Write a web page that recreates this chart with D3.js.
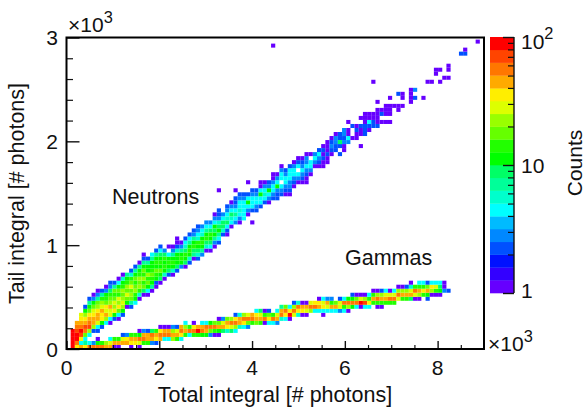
<!DOCTYPE html>
<html>
<head>
<meta charset="utf-8">
<script src="https://cdn.jsdelivr.net/npm/d3@7"></script>
<style>
body { margin: 0; background: #fff; }
text { font-family: "Liberation Sans", Arial, sans-serif; fill: #111; }
</style>
</head>
<body>
<div id="chart"></div>
<script>
// histogram bins, 100 in x, about 78 in y
var xBinWidth = 90;
var yBinWidth = 38.7;

// each column: [x bin, first y bin, counts going upward], 0 = empty cell
var neutronColumns = [
  [1,0,[90,90,90,90,90]], [2,1,[55,90,90,70,55,50]], [3,1,[4,35,70,90,60,50,35,28]],
  [4,2,[5,18,60,70,40,35,22,12,2]], [5,3,[5,22,70,55,40,35,18,12,7,2]],
  [6,4,[2,22,50,45,35,28,18,11,3,1]], [7,4,[2,5,28,45,50,35,22,18,7,3,1]],
  [8,5,[2,11,35,35,50,28,22,14,7,2]], [9,6,[5,22,45,28,35,18,14,11,3,1]],
  [10,6,[1,4,28,28,45,22,18,14,8,3,2]], [11,7,[2,11,35,22,28,18,14,18,7,2]],
  [12,7,[1,4,18,35,22,28,14,18,11,4,1]], [13,8,[2,11,22,28,22,18,22,14,11,6,1]],
  [14,10,[1,11,18,28,18,22,14,11,7]], [15,10,[2,7,18,22,18,28,18,14,6,2]],
  [16,11,[4,11,14,22,18,14,18,11,7,2]], [17,12,[1,6,14,22,18,22,14,11,7,1]],
  [18,13,[1,8,18,14,22,14,18,11,7,2]], [18,23,[1]], [19,13,[1,4,11,18,14,22,11,11,7,2]],
  [20,14,[1,7,11,14,18,14,11,11,7,4]], [21,15,[1,2,11,14,18,11,14,11,7,2]],
  [22,16,[1,8,11,18,11,14,11,8,4,2]], [23,17,[1,6,11,14,11,14,8,3]],
  [24,18,[2,8,11,14,11,4]], [24,25,[1]], [25,18,[1,6,11,14,11,7,3,1]],
  [26,19,[2,8,11,11,11,6,2,1,1]], [27,20,[3,11,14,11,7,3,1]],
  [28,20,[1,8,11,14,8,6,4,2]], [29,21,[2,6,11,14,11,7,4,2]],
  [30,22,[1,7,8,14,11,7,3,2]], [31,22,[2,6,8,11,14,6,4,3,2]],
  [32,23,[3,7,11,14,11,6,4,3]], [33,24,[1,6,8,14,11,7,4,3]],
  [34,24,[1,4,8,11,14,8,4,3]], [35,25,[1,3,7,11,9,11,4,3,1]],
  [36,26,[2,4,7,11,8,6,3,2,2]], [36,39,[1]], [37,28,[2,6,9,8,5,3]],
  [38,28,[1,2,5,8,6,4,3,2]], [39,30,[1,4,6,8,5,3,1]], [40,31,[3,5,7,5,3,2,2]], [40,39,[1]],
  [41,31,[1,3,5,6,4,4,3,2]], [42,32,[4,5,5,4,5,3,2]], [43,33,[1,3,5,11,5,2]], [43,41,[1]],
  [44,31,[1]], [44,34,[2,4,5,4,3,2]], [45,34,[2,3,5,4,3,2]], [46,35,[2,4,5,11,4,1,1]],
  [47,36,[2,4,6,4,3,1]], [48,36,[1,3,5,11,3,2]], [49,37,[2,3,4,5,3,1,1]],
  [50,37,[2,2,3,11,4,3,1]], [51,38,[2,3,4,0,5,4,3,1]], [52,38,[1,2,3,5,4,3,2]],
  [53,38,[1,2,3,3,4,5,4,2]], [54,40,[1,2,3,4,4,3,1]], [55,41,[1,3,4,0,4,2,1]],
  [56,41,[1,2,3,4,3,2,1]], [57,41,[1,1,2,3,4,3,3,1]], [58,43,[1,3,4,5,0,1]],
  [59,45,[1,3,4,3]], [60,45,[1,2,3,4,2]], [61,45,[1,1,2,1,2,1]], [62,46,[1,1,2,1,1,1]],
  [63,48,[1,2,3,2,1]], [64,49,[2,2,3,3,1]], [65,48,[2]], [65,50,[2,8,2,2]],
  [66,49,[1,1,3,2,3,3]], [67,51,[3,4,1,1]], [67,56,[1]], [68,52,[1,0,0,2]],
  [69,52,[1,1,2,1]], [70,50,[1]], [70,53,[1,1,2,0,1]], [71,53,[2,2,2,1,1,1]],
  [72,54,[1,2,4,1,1]], [73,55,[2,2,1,1]], [73,66,[1]], [74,55,[2,1,1,1,1]], [74,61,[1]],
  [75,56,[1,0,2,1]], [76,56,[1,0,1,1,1]], [77,56,[1,0,1,1,1,0,1]], [78,60,[1]],
  [79,59,[1,1]], [79,63,[2]], [80,60,[1,0,1,1]], [82,61,[1,1,1,1]], [83,62,[2,0,3]],
  [85,62,[1]], [86,66,[1]], [87,66,[1]], [88,68,[1,1]], [89,66,[1]], [89,69,[1]],
  [90,67,[1]], [91,67,[1]], [91,69,[1,1]], [94,73,[2]], [95,73,[2,1]], [98,76,[1]],
  [49,75,[1]]
];

var gammaColumns = [
  [2,0,[35]], [3,0,[45]], [4,0,[35,7]], [5,0,[55,5]], [6,0,[55,3]], [7,0,[55,11,1]],
  [8,0,[55,14]], [9,0,[45,22]], [10,0,[45,28,4]], [11,0,[1,45,14]], [12,0,[1,45,14]],
  [13,1,[45,28,2]], [14,1,[45,35,3]], [15,0,[1,35,45,14]], [16,1,[35,45,14]],
  [17,0,[1,28,55,11,1]], [18,1,[14,55,40,3]], [19,1,[14,45,45,2]], [20,1,[3,40,55,8]],
  [21,1,[2,35,45,14]], [22,2,[45,55,35,1]], [23,2,[5,55,45,1]], [24,2,[5,55,40,1]],
  [25,2,[22,40,22,3]], [26,2,[14,45,28,2]], [27,2,[4,35,55,40]], [28,3,[14,45,22,4]],
  [29,3,[5,55,14]], [30,3,[14,55,35,1]], [31,3,[14,80,40]], [32,3,[11,55,45,5]],
  [33,3,[11,45,55,5]], [34,3,[3,18,55,11]], [35,3,[1,14,55,18]], [36,3,[1,11,45,18,1]],
  [37,4,[8,50,28,3]], [38,4,[6,35,45,18]], [39,4,[8,28,55,22]], [40,4,[4,22,55,35,2]],
  [41,5,[6,50,45,6]], [42,5,[4,35,55,22]], [43,5,[3,18,55,28]], [44,6,[14,55,45]],
  [45,6,[18,40,35,5]], [46,6,[14,45,28,8]], [47,6,[1,55,14,1]], [48,6,[4,35,18,2]],
  [49,6,[5,55,14]], [50,6,[3,45,28,5]], [51,7,[6,55,40,7]], [52,7,[5,35,55,18]],
  [53,7,[1,80,35,5]], [54,8,[28,55,22,2]], [55,8,[6,35,55,6]], [56,8,[1,35,45,1]],
  [57,8,[1,28,45,1]], [58,9,[22,55,28]], [59,9,[5,55,35]], [60,9,[5,45,35,1]],
  [61,8,[1,4,35,28,4]], [62,9,[4,28,45,3]], [63,9,[5,45,14,3]], [64,9,[4,45,18]],
  [65,9,[3,28,28,2]], [66,9,[5,14,55,4]], [67,9,[1,22,55,11]], [68,10,[11,55,11,2]],
  [69,10,[5,55,18,1]], [70,10,[1,80,28,1]], [71,10,[4,70,22,1]], [72,10,[5,35,14,4]],
  [73,11,[14,45,14,1]], [74,10,[1,14,55,22,1]], [75,10,[1,14,45,22,2]], [76,11,[14,45,28,5]],
  [77,11,[14,55,28,1]], [78,11,[14,55,28,4]], [79,12,[28,55,22,1]], [80,12,[14,45,22,1]],
  [81,12,[14,45,22,2]], [82,12,[8,45,28,6,1]], [83,12,[1,28,55,14]], [84,12,[1,22,45,14,4]],
  [85,13,[14,35,14,5]], [86,12,[2,11,45,18,2]], [87,13,[1,22,35,5]], [88,13,[1,14,28,4]],
  [89,13,[1,11,8,4]], [90,14,[3,1,1]], [91,14,[2]]
];

var xMajorTicks = [0, 2000, 4000, 6000, 8000];
var xMinorTicks = [500, 1000, 1500, 2500, 3000, 3500, 4500, 5000, 5500, 6500, 7000, 7500, 8500];
var yMajorTicks = [0, 1000, 2000, 3000];
var yMinorTicks = [200, 400, 600, 800, 1200, 1400, 1600, 1800, 2200, 2400, 2600, 2800];
var zMajorTicks = [1, 10, 100];
var zMinorTicks = [2, 3, 4, 5, 6, 7, 8, 9, 20, 30, 40, 50, 60, 70, 80, 90];
var bandColors = ["#6600ff", "#3300ff", "#0011ff", "#0050ff", "#0088ff", "#00bbff", "#00ffff",
  "#00ffcc", "#00ff99", "#00ff66", "#00ff00", "#22ff00", "#66ff00", "#99ff00", "#ddff00",
  "#ffee00", "#ffaa00", "#ff7700", "#ff4400", "#ff0000"];

var svg = d3.select("#chart").append("svg")
  .attr("width", 585)
  .attr("height", 410);

var x = d3.scaleLinear().domain([0, 9000]).range([66.5, 484]);
var y = d3.scaleLinear().domain([0, 3000]).range([349, 37.5]);
var z = d3.scaleLog().domain([1, 100]).range([293, 37]);

function countColor(c) {
  var band = Math.floor(Math.log10(c) * 10);
  return bandColors[Math.min(band, bandColors.length - 1)];
}

// flatten the columns to single cells
var cells = [];
neutronColumns.concat(gammaColumns).forEach(function(col) {
  col[2].forEach(function(c, k) {
    if (c > 0) cells.push({i: col[0], j: col[1] + k, count: c});
  });
});

svg.append("g").selectAll("rect")
  .data(cells)
  .enter()
  .append("rect")
  .attr("x", function(d) { return x(d.i * xBinWidth); })
  .attr("y", function(d) { return y((d.j + 1) * yBinWidth); })
  .attr("width", x(xBinWidth) - x(0))
  .attr("height", y(0) - y(yBinWidth))
  .attr("fill", function(d) { return countColor(d.count); });

// axes, major and minor ticks drawn separately
function styleAxis(g, width) {
  g.select(".domain").remove();
  g.selectAll("line").attr("stroke", "#111").attr("stroke-width", width);
}

svg.append("g").attr("transform", "translate(0,349)")
  .call(d3.axisTop(x).tickValues(xMajorTicks).tickSize(8).tickFormat(""))
  .call(styleAxis, 1.4);
svg.append("g").attr("transform", "translate(0,349)")
  .call(d3.axisTop(x).tickValues(xMinorTicks).tickSize(4).tickFormat(""))
  .call(styleAxis, 1.2);
svg.append("g").attr("transform", "translate(66.5,0)")
  .call(d3.axisRight(y).tickValues(yMajorTicks).tickSize(13).tickFormat(""))
  .call(styleAxis, 1.4);
svg.append("g").attr("transform", "translate(66.5,0)")
  .call(d3.axisRight(y).tickValues(yMinorTicks).tickSize(6.5).tickFormat(""))
  .call(styleAxis, 1.2);

svg.append("g").selectAll("text")
  .data(xMajorTicks)
  .enter()
  .append("text")
  .attr("x", function(d) { return x(d); })
  .attr("y", 375)
  .attr("text-anchor", "middle")
  .style("font-size", "21px")
  .text(function(d) { return d / 1000; });

svg.append("g").selectAll("text")
  .data(yMajorTicks)
  .enter()
  .append("text")
  .attr("x", 58)
  .attr("y", function(d) { return y(d) + 7.5; })
  .attr("text-anchor", "end")
  .style("font-size", "21px")
  .text(function(d) { return d / 1000; });

svg.append("rect")
  .attr("x", x(0)).attr("y", y(3000))
  .attr("width", x(9000) - x(0)).attr("height", y(0) - y(3000))
  .attr("fill", "none").attr("stroke", "#000").attr("stroke-width", 2);

// colour bar
var zLevels = d3.range(20);
svg.append("g").selectAll("rect")
  .data(zLevels)
  .enter()
  .append("rect")
  .attr("x", 490)
  .attr("width", 24)
  .attr("y", function(d) { return z(Math.pow(10, (d + 1) / 10)); })
  .attr("height", (z(1) - z(100)) / 20 + 0.3)
  .attr("fill", function(d) { return bandColors[d]; });

svg.append("g").attr("transform", "translate(514,0)")
  .call(d3.axisLeft(z).tickValues(zMajorTicks).tickSize(11).tickFormat(""))
  .call(styleAxis, 1.4);
svg.append("g").attr("transform", "translate(514,0)")
  .call(d3.axisLeft(z).tickValues(zMinorTicks).tickSize(6).tickFormat(""))
  .call(styleAxis, 1.2);
svg.append("line")
  .attr("x1", 514).attr("x2", 514).attr("y1", 37).attr("y2", 293)
  .attr("stroke", "#111").attr("stroke-width", 1.4);

function power(xPos, yPos, base, exp, size) {
  var t = svg.append("text").attr("x", xPos).attr("y", yPos).style("font-size", size + "px");
  t.append("tspan").text(base);
  t.append("tspan").attr("dy", -size * 0.43).style("font-size", (size * 0.78) + "px").text(exp);
}

power(521, 48.5, "10", "2", 21);
svg.append("text").attr("x", 521).attr("y", 173).style("font-size", "21px").text("10");
svg.append("text").attr("x", 521).attr("y", 298).style("font-size", "21px").text("1");
power(68, 32, "\u00d710", "3", 21);
power(488, 351, "\u00d710", "3", 21);

svg.append("text")
  .attr("x", 275).attr("y", 402)
  .attr("text-anchor", "middle")
  .style("font-size", "21.5px")
  .text("Total integral [# photons]");

svg.append("text")
  .attr("transform", "translate(24,193.5) rotate(-90)")
  .attr("text-anchor", "middle")
  .style("font-size", "21.5px")
  .text("Tail integral [# photons]");

svg.append("text")
  .attr("transform", "translate(582,163) rotate(-90)")
  .attr("text-anchor", "middle")
  .style("font-size", "21px")
  .text("Counts");

svg.append("text").attr("x", 112).attr("y", 204).style("font-size", "21.5px").text("Neutrons");
svg.append("text").attr("x", 345).attr("y", 265).style("font-size", "21.5px").text("Gammas");
</script>
</body>
</html>
